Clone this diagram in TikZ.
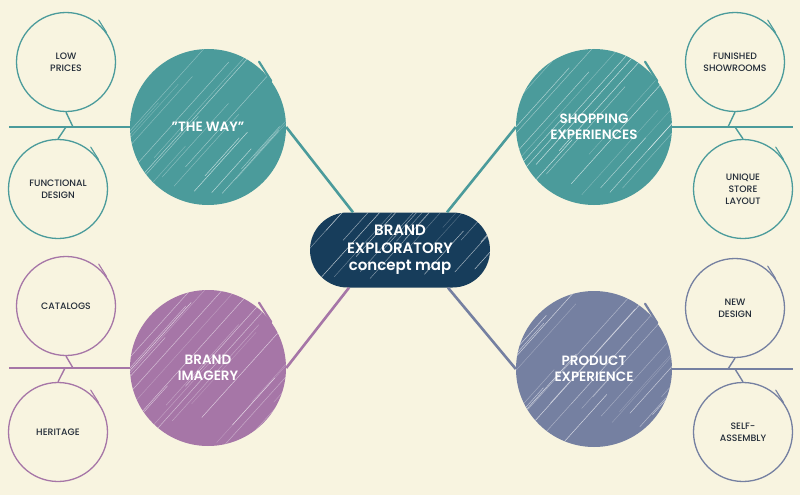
\documentclass[tikz,border=0pt]{standalone}
\usepackage{fontspec}
\setmainfont{Poppins}[BoldFont={Poppins SemiBold}]
\newfontfamily\leaffont{Poppins Medium}
\usetikzlibrary{positioning,calc,shapes.misc}
\definecolor{paper}{HTML}{F8F4E0}
\definecolor{way_teal}{HTML}{4B9B9B}
\definecolor{imagery_purple}{HTML}{A676A7}
\definecolor{product_slate}{HTML}{7580A1}
\definecolor{hub_navy}{HTML}{173D5B}
\definecolor{ink}{HTML}{232C38}
\tikzset{
  hatch/.style={path picture={%
    \pgfmathsetseed{#1}%
    \foreach \k in {-120,-110,...,180} {
      \pgfmathsetmacro{\off}{\k+rnd*7}
      \pgfmathsetmacro{\lift}{rnd*60}
      \pgfmathsetmacro{\len}{50+rnd*200}
      \pgfmathsetmacro{\op}{0.2+rnd*0.5}
      \draw[white, opacity=\op, line width=0.5pt]
        ([xshift=\off pt, yshift=\lift pt]path picture bounding box.south west) -- ++(48:\len pt);
    }}},
  topic/.style={circle, fill=#1, minimum size=156pt, inner sep=0pt, text=white,
    font=\bfseries\fontsize{13.5}{15.5}\selectfont, align=center},
  leaf/.style={circle, draw=#1, line width=1.3pt, minimum size=99pt, inner sep=0pt,
    text=ink, font=\leaffont\fontsize{9.3}{12}\selectfont, align=center},
  hub/.style={rounded rectangle, fill=hub_navy, minimum width=180pt, minimum height=75pt,
    inner sep=0pt, text=white, font=\bfseries\fontsize{15}{17.5}\selectfont, align=center,
    hatch=3},
  spoke/.style={draw=#1, line width=2.6pt},
  stem/.style={draw=#1, line width=1.4pt},
}
% pen overshoot at the upper right of a circle
\newcommand{\sketchtail}[3]{%
  \draw[#2, line width=#3, line cap=round] ($(#1.center)!1.06!(#1.52)$) -- (#1.36);%
}

\begin{document}
\begin{tikzpicture}[x=1pt, y=-1pt]

  \useasboundingbox (0,0) rectangle (800,495);
  \fill[paper] (0,0) rectangle (800,495);

  % --- centre and the four topics ----------------------------------------
  \node[hub] (hub) at (400,250) {BRAND\\EXPLORATORY\\concept map};
  \node[topic=way_teal, hatch=11] (way) at (208,127) {"THE WAY"};
  \node[topic=way_teal, hatch=5] (shopping) at (594,127) {SHOPPING\\EXPERIENCES};
  \node[topic=imagery_purple, hatch=8] (imagery) at (208,368) {BRAND\\IMAGERY};
  \node[topic=product_slate, hatch=2] (product) at (594,369) {PRODUCT\\EXPERIENCE};
  \sketchtail{way}{way_teal}{2.2pt}
  \sketchtail{shopping}{way_teal}{2.2pt}
  \sketchtail{imagery}{imagery_purple}{2.2pt}
  \sketchtail{product}{product_slate}{2.2pt}

  \draw[spoke=way_teal] ([xshift=-47pt]hub.north) -- (way.east);
  \draw[spoke=way_teal] ([xshift=47pt]hub.north) -- (shopping.west);
  \draw[spoke=imagery_purple] ([xshift=-51pt]hub.south) -- (imagery.east);
  \draw[spoke=product_slate] ([xshift=48pt]hub.south) -- (product.west);

  % --- leaves --------------------------------------------------------------
  \node[leaf=way_teal] (lowprices) at (66,62) {LOW\\PRICES};
  \node[leaf=way_teal] (functional) at (58,189) {FUNCTIONAL\\DESIGN};
  \node[leaf=way_teal] (showrooms) at (735,62) {FUNISHED\\SHOWROOMS};
  \node[leaf=way_teal] (layout) at (743,189) {UNIQUE\\STORE\\LAYOUT};
  \node[leaf=imagery_purple] (catalogs) at (66,306) {CATALOGS};
  \node[leaf=imagery_purple] (heritage) at (58,432) {HERITAGE};
  \node[leaf=product_slate] (newdesign) at (735,308) {NEW\\DESIGN};
  \node[leaf=product_slate] (assembly) at (743,432) {SELF-\\ASSEMBLY};
  \foreach \n/\c in {lowprices/way_teal, functional/way_teal, showrooms/way_teal,
      layout/way_teal, catalogs/imagery_purple, heritage/imagery_purple,
      newdesign/product_slate, assembly/product_slate}
    \sketchtail{\n}{\c}{1.1pt};

  % rails and the short ticks up to them
  \coordinate (way-rail) at (9,127);
  \coordinate (lowprices-foot) at (73,127);
  \coordinate (functional-foot) at (66,127);
  \draw[stem=way_teal] (way-rail) -- (way.west);
  \draw[stem=way_teal] (lowprices.south) -- (lowprices-foot);
  \draw[stem=way_teal] (functional.north) -- (functional-foot);

  \coordinate (shopping-rail) at (793,127);
  \coordinate (showrooms-foot) at (728,127);
  \coordinate (layout-foot) at (735,127);
  \draw[stem=way_teal] (shopping.east) -- (shopping-rail);
  \draw[stem=way_teal] (showrooms.south) -- (showrooms-foot);
  \draw[stem=way_teal] (layout.north) -- (layout-foot);

  \coordinate (imagery-rail) at (9,368);
  \coordinate (catalogs-foot) at (73,368);
  \coordinate (heritage-foot) at (65,368);
  \draw[stem=imagery_purple] (imagery-rail) -- (imagery.west);
  \draw[stem=imagery_purple] (catalogs.south) -- (catalogs-foot);
  \draw[stem=imagery_purple] (heritage.north) -- (heritage-foot);

  \coordinate (product-rail) at (793,369);
  \coordinate (newdesign-foot) at (728,369);
  \coordinate (assembly-foot) at (735,369);
  \draw[stem=product_slate] (product.east) -- (product-rail);
  \draw[stem=product_slate] (newdesign.south) -- (newdesign-foot);
  \draw[stem=product_slate] (assembly.north) -- (assembly-foot);

\end{tikzpicture}
\end{document}
